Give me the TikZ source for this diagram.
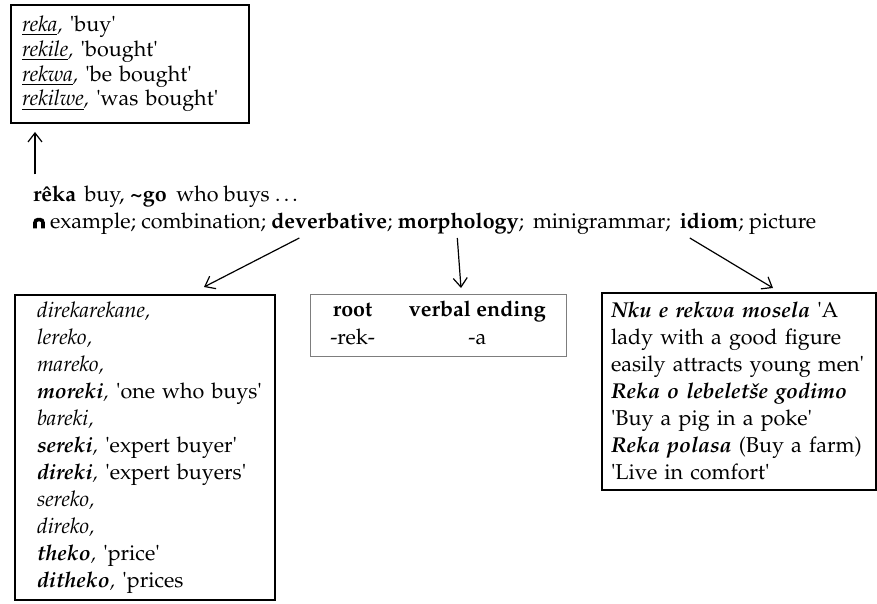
\documentclass[tikz,border=0pt]{standalone}
\usepackage[T1]{fontenc}
\usepackage{mathpazo}
\usepackage{tikz}
\usetikzlibrary{arrows.meta, positioning, calc}
\definecolor{tablegray}{RGB}{125,125,125}
\newcommand{\qs}{\textquotesingle}
\newcommand{\lemma}[1]{\textbf{\textit{#1}}}

\begin{document}
\begin{tikzpicture}[
  x=1pt, y=-1pt,
  every node/.style={inner sep=0pt, outer sep=0pt},
  entry/.style={font=\fontsize{21.5}{27}\selectfont},
  framebox/.style={draw, line width=2pt, align=left, entry},
  refword/.style={entry, anchor=base west},
  gap/.style={xshift=5.4pt},
  widegap/.style={xshift=9pt},
  arr/.style={-{Straight Barb[length=9pt,width=14pt]}, line width=1.2pt}
]
\useasboundingbox (0,0) rectangle (877,604);

% Forms of the verb
\node[framebox, font=\fontsize{21.5}{24.7}\selectfont, text width=216pt,
      inner xsep=11pt, minimum width=238pt, minimum height=118pt] (forms) at (130,64)
  {\underline{\textit{reka}}\textit{,} \qs buy\qs\\
   \underline{\textit{rekile}}\textit{,} \qs bought\qs\\
   \underline{\textit{rekwa}}\textit{,} \qs be bought\qs\\
   \underline{\textit{rekilwe}}\textit{,} \qs was bought\qs};

% Headword
\node[entry, anchor=base west] (head) at (33,201)
  {\textbf{r\^eka}\hspace{.4em}buy, \textbf{\textasciitilde go}\hspace{.45em}who buys \dots};

% Reference line
\draw[line width=3.6pt, rounded corners=3pt] (35,228.4) -- (35,219.6) -- (43,219.6) -- (43,228.4);
\node[refword] (refa) at (50,228) {example; combination;};
\node[refword, gap] (rdev) at (refa.base east) {\textbf{deverbative}};
\node[refword] (refb) at (rdev.base east) {;};
\node[refword, gap] (rmorph) at (refb.base east) {\textbf{morphology}};
\node[refword] (refc) at (rmorph.base east) {;\hspace{9pt}minigrammar;};
\node[refword, widegap] (ridiom) at (refc.base east) {\textbf{idiom}};
\node[refword] (refd) at (ridiom.base east) {; picture};

% Deverbatives
\node[framebox, text width=216pt, inner xsep=22pt,
      minimum width=260pt, minimum height=305pt] (devbox) at (145,447.5)
  {\textit{direkarekane,}\\
   \textit{lereko,}\\
   \textit{mareko,}\\
   \mbox{\lemma{moreki}\textit{,} \qs one who buys\qs}\\
   \textit{bareki,}\\
   \lemma{sereki}\textit{,} \qs expert buyer\qs\\
   \lemma{direki}\textit{,} \qs expert buyers\qs\\
   \textit{sereko,}\\
   \textit{direko,}\\
   \lemma{theko}\textit{,} \qs price\qs\\
   \lemma{ditheko}\textit{,} \qs prices};

% Morphology
\node[draw=tablegray, line width=0.8pt, font=\fontsize{21.5}{28}\selectfont,
      minimum width=256pt, minimum height=62pt] (morphbox) at (438,325)
  {\begin{tabular}{@{}c@{\hspace{34pt}}c@{}}
     \textbf{root} & \textbf{verbal ending}\\
     -rek- & -a
   \end{tabular}};

% Idioms
\node[framebox, text width=256pt, inner xsep=9pt,
      minimum width=274pt, minimum height=197pt] (idiombox) at (739,391.5)
  {\lemma{Nku e rekwa mosela} \qs A\\
   lady with a good figure\\
   \mbox{easily attracts young men\qs}\\
   \lemma{Reka o lebelet\v{s}e godimo}\\
   \qs Buy a pig in a poke\qs\\
   \mbox{\lemma{Reka polasa} (Buy a farm)}\\
   \qs Live in comfort\qs};

% Arrows
\draw[arr] ($(head.north west)+(2,-11)$) -- ($(head.north west |- forms.south)+(2,9)$);
\draw[arr] ($(rdev.base west)+(28,10)$) -- ($(devbox.north)+(59,-8)$);
\draw[arr] ($(rmorph.base)+(-1,10)$) -- ($(morphbox.north)+(23,-6)$);
\draw[arr] ($(ridiom.base west)+(10,10)$) -- ($(idiombox.north)+(34,-5)$);

\end{tikzpicture}
\end{document}
